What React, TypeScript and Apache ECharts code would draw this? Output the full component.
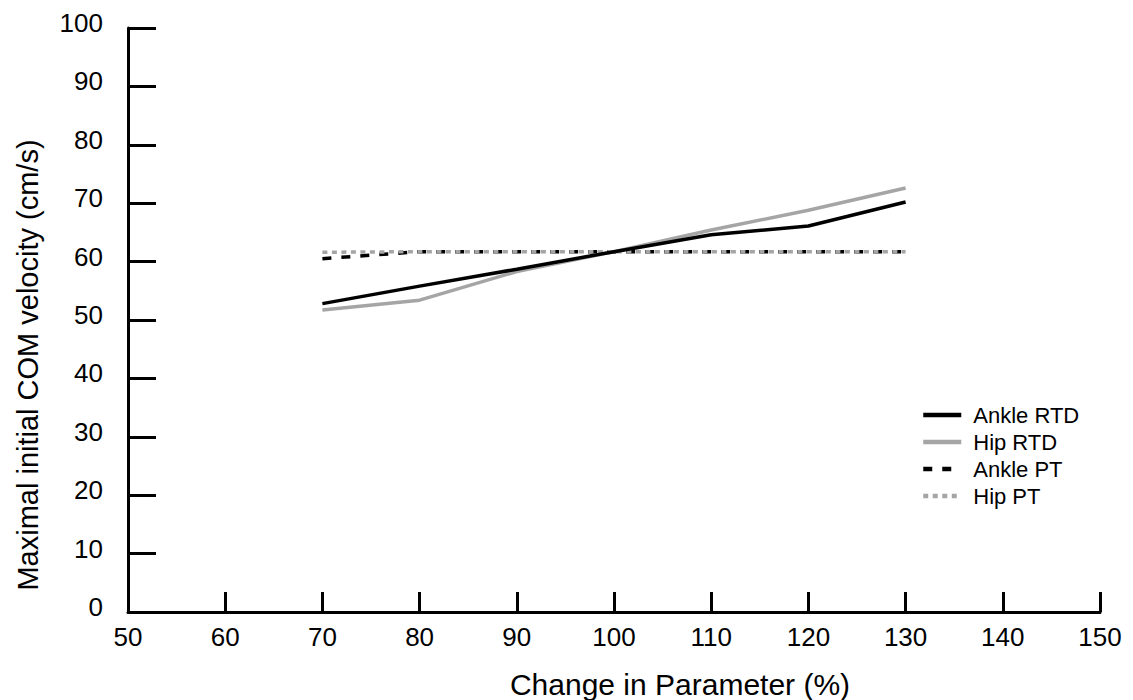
import React, { useEffect, useRef } from "react";
import * as echarts from "echarts";

const xValues = [70, 80, 90, 100, 110, 120, 130];
const ankleRTD = [52.8, 55.8, 58.7, 61.7, 64.6, 66.1, 70.2];
const hipRTD = [51.7, 53.4, 58.3, 61.7, 65.4, 68.8, 72.6];
const anklePT = [60.5, 61.7, 61.7, 61.7, 61.7, 61.7, 61.7];
const hipPT = [61.6, 61.7, 61.7, 61.7, 61.7, 61.7, 61.7];
const seriesNames = ["Ankle RTD", "Hip RTD", "Ankle PT", "Hip PT"];

const FONT = "Liberation Sans, Arial, sans-serif";

export default function App() {
  const ref = useRef<HTMLDivElement>(null);
  useEffect(() => {
    if (!ref.current) return;
    const chart = echarts.init(ref.current, null, { renderer: "svg" });
    const pair = (ys: number[]) => xValues.map((x, i) => [x, ys[i]]);
    const mk = (name: string, ys: number[], color: string, type: any, z: number) => ({
      name,
      type: "line",
      data: pair(ys),
      symbol: "none",
      showSymbol: false,
      z,
      lineStyle: { color, width: 3.5, type },
      itemStyle: { color },
    });
    chart.setOption({
      animation: false,
      textStyle: { fontFamily: FONT },
      grid: { left: 128, right: 33, top: 28, bottom: 88 },
      xAxis: {
        type: "value",
        min: 50,
        max: 150,
        interval: 10,
        axisLine: { lineStyle: { color: "#000", width: 3 } },
        axisTick: { inside: true, length: 20, lineStyle: { color: "#000", width: 3 } },
        axisLabel: { color: "#000", fontSize: 26, margin: 12, fontFamily: FONT },
        splitLine: { show: false },
      },
      yAxis: {
        type: "value",
        min: 0,
        max: 100,
        interval: 10,
        axisLine: { show: true, lineStyle: { color: "#000", width: 3 } },
        axisTick: { show: true, inside: true, length: 28, lineStyle: { color: "#000", width: 3 } },
        axisLabel: {
          color: "#000",
          fontSize: 26,
          margin: 25,
          fontFamily: FONT,
          verticalAlign: "bottom",
          lineHeight: 10,
        },
        splitLine: { show: false },
      },
      legend: {
        orient: "vertical",
        left: 916,
        top: 399,
        itemWidth: 38,
        itemHeight: 14,
        itemGap: 5,
        data: seriesNames,
        itemStyle: { opacity: 0 },
        lineStyle: { width: 4.5 },
        textStyle: { color: "#000", fontSize: 22, fontFamily: FONT, padding: [0, 0, 0, 7] },
      },
      graphic: [
        {
          type: "text",
          x: 28,
          y: 365,
          rotation: Math.PI / 2,
          style: {
            text: "Maximal initial COM velocity (cm/s)",
            fontSize: 29,
            fontFamily: FONT,
            fill: "#000",
            textAlign: "center",
            textVerticalAlign: "middle",
          },
        },
        {
          type: "text",
          x: 680,
          y: 684,
          style: {
            text: "Change in Parameter (%)",
            fontSize: 30,
            fontFamily: FONT,
            fill: "#000",
            textAlign: "center",
            textVerticalAlign: "middle",
          },
        },
      ],
      series: [
        mk(seriesNames[0], ankleRTD, "#000000", "solid", 4),
        mk(seriesNames[1], hipRTD, "#a5a5a5", "solid", 3),
        mk(seriesNames[2], anklePT, "#000000", [9, 10], 2),
        mk(seriesNames[3], hipPT, "#a5a5a5", [5, 4.5], 3),
      ],
    });
    return () => chart.dispose();
  }, []);
  return <div ref={ref} style={{ width: 1133, height: 700, position: "absolute", left: 0, top: 0 }} />;
}
